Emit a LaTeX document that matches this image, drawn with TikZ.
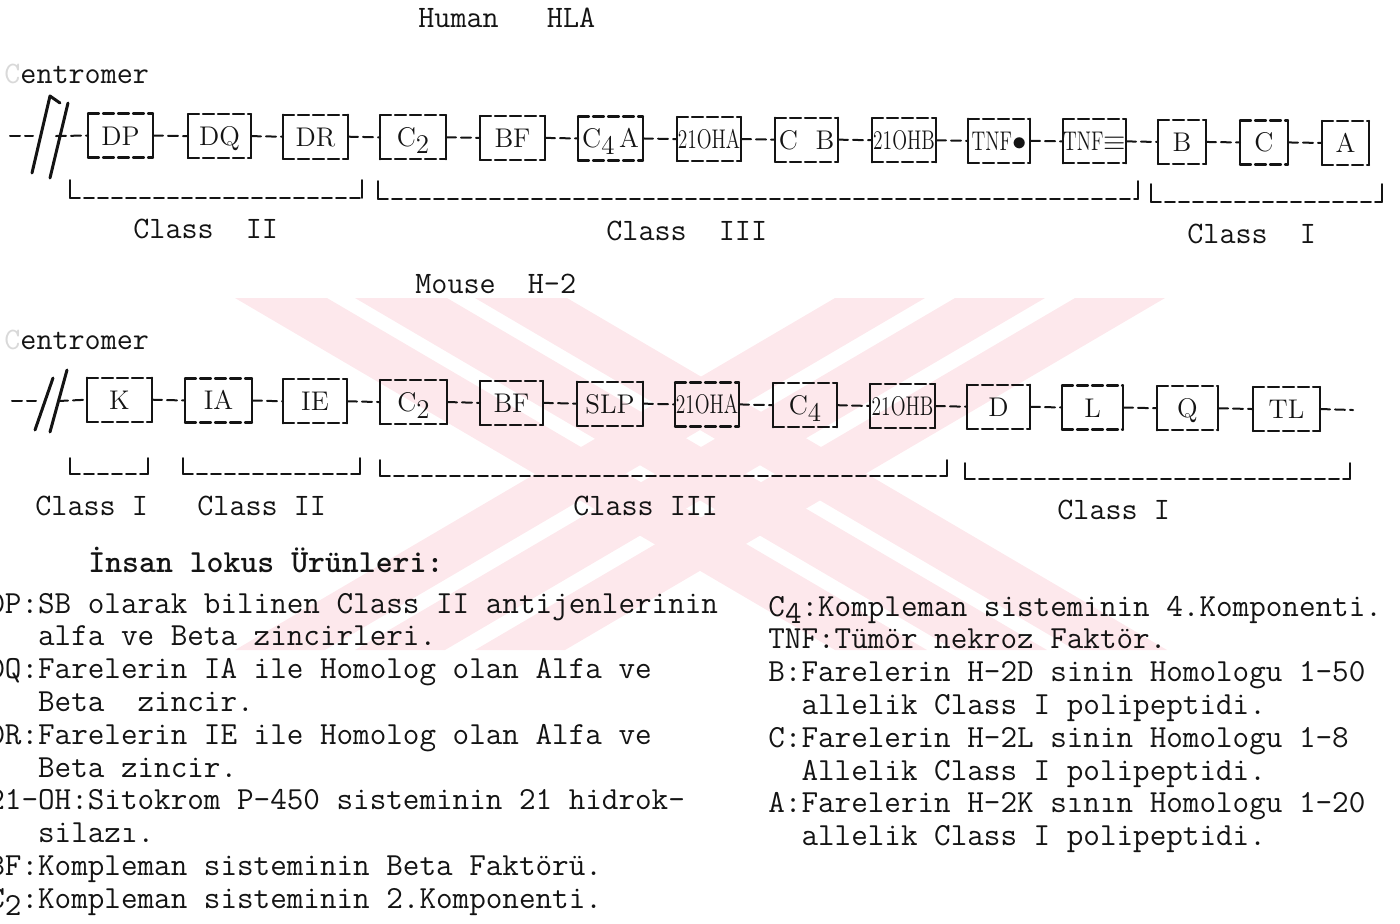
\documentclass[tikz,border=0pt]{standalone}
\usepackage{graphicx}
\usepackage{tikz}
\usetikzlibrary{positioning,calc}
\definecolor{wmpink}{HTML}{FDE8EC}
\definecolor{ink}{HTML}{141414}
\newcommand\headfont{\fontsize{15.6}{18}\selectfont\ttfamily}
\newcommand\legfont{\fontsize{16.1}{16.4}\selectfont\ttfamily}
\newcommand\genefont{\fontsize{13.5}{15}\selectfont\rmfamily}
\newcommand\sqz[1]{\scalebox{.72}[1]{#1}}
\newcommand\lowr[1]{\raisebox{-3.5pt}{#1}}
\tikzset{
    every picture/.style={line cap=round,line join=round},
    boxrule/.style={draw=ink,line width=1.1pt,dash pattern=on 5.5pt off 2pt},
    boxside/.style={draw=ink,line width=1.1pt},
    genebox/.style={inner sep=0pt,outer sep=0pt,minimum height=22pt,
      text height=9.5pt,text depth=0pt,font=\genefont,text=ink,
      append after command={
        (\tikzlastnode.north west) edge[boxrule] (\tikzlastnode.north east)
        (\tikzlastnode.south west) edge[boxrule] (\tikzlastnode.south east)
        (\tikzlastnode.north west) edge[boxside] (\tikzlastnode.south west)
        (\tikzlastnode.north east) edge[boxside] (\tikzlastnode.south east)}},
    linkline/.style={draw=ink,line width=1pt,dash pattern=on 5pt off 2.5pt},
    breakline/.style={draw=ink,line width=1.5pt},
    tickline/.style={draw=ink,line width=0.9pt},
    spanline/.style={draw=ink,line width=0.9pt,dash pattern=on 5pt off 2pt},
    headtext/.style={inner sep=0pt,font=\headfont,text=ink,anchor=base west},
    legtext/.style={inner sep=0pt,font=\legfont,text=ink,anchor=base west},
    wmark/.style={fill=wmpink}
}

\begin{document}
\begin{tikzpicture}[x=0.5pt,y=-0.5pt]
  \useasboundingbox (0,0) rectangle (1400,923);
  \foreach \a in {235,355,475} {
    \fill[wmark] (\a,298) -- (\a+92,298) -- (\a+692,650) -- (\a+600,650) -- cycle;
  }
  \foreach \a in {835,955,1075} {
    \fill[wmark] (\a,298) -- (\a+90,298) -- (\a-510,650) -- (\a-600,650) -- cycle;
  }

  \node[headtext] (hla) at (418,27) {Human\ \ \ HLA};
  \node[headtext] (hcen) at (4,83) {{\color{black!15}C}entromer};
  \foreach \i/\xa/\xb/\lab in {1/88/153/DP,2/188/251/DQ,3/283/348/DR,
      4/380/446/{C\lowr{2}},5/480/545/BF,6/578/643/{C\lowr{4}\,A},
      7/677/741/{\sqz{21OHA}},8/775/838/{C\ \ B},9/872/936/{\sqz{21OHB}},
      10/968/1030/{\sqz{TNF}$\bullet$},11/1063/1126/{\sqz{TNF}$\equiv$},
      12/1158/1206/B,13/1240/1288/C,14/1322/1369/A} {
    \node[genebox,minimum width={(\xb-\xa)*0.5pt}] (h\i)
      at ({(\xa+\xb)/2},{135+0.006*\xa}) {\lab};
  }
  \coordinate (hs) at (10,136);
  \coordinate (hb1) at (33,136);
  \coordinate (hb2) at (56,136);
  \draw[linkline] (hs) -- (hb1);
  \draw[linkline] (hb2) -- (h1.west);
  \draw[breakline] (32,173) -- (50,96) -- (60,103);
  \draw[breakline] (50,178) -- (68,103);
  \foreach \i [evaluate=\i as \j using int(\i-1)] in {2,...,14}
    \draw[linkline] (h\j.east) -- (h\i.west);
  \foreach \xa/\xb/\yt in {70/362/180,378/1138/181,1151/1382/184} {
    \draw[tickline] (\xa,\yt) -- (\xa,\yt+18);
    \draw[tickline] (\xb,\yt) -- (\xb,\yt+18);
    \draw[spanline] (\xa,\yt+18) -- (\xb,\yt+18);
  }
  \node[headtext] (hc2) at (133,238) {Class\ \ II};
  \node[headtext] (hc3) at (606,240) {Class\ \ III};
  \node[headtext] (hc1) at (1187,243) {Class\ \ I};

  \node[headtext] (mh2) at (415,293) {Mouse\ \ H-2};
  \node[headtext] (mcen) at (4,349) {{\color{black!15}C}entromer};
  \foreach \i/\xa/\xb/\lab in {1/87/152/K,2/185/252/IA,3/283/347/IE,
      4/380/447/{C\lowr{2}},5/480/543/BF,6/577/643/SLP,
      7/675/739/{\sqz{21OHA}},8/773/837/{C\lowr{4}},9/870/935/{\sqz{21OHB}},
      10/967/1030/D,11/1062/1123/L,12/1157/1218/Q,13/1253/1320/TL} {
    \node[genebox,minimum width={(\xb-\xa)*0.5pt}] (m\i)
      at ({(\xa+\xb)/2},{399+0.008*\xa}) {\lab};
  }
  \coordinate (ms) at (12,401);
  \coordinate (mb1) at (36,401);
  \coordinate (mb2) at (58,401);
  \coordinate (mend) at (1353,410);
  \draw[linkline] (ms) -- (mb1);
  \draw[linkline] (mb2) -- (m1.west);
  \draw[breakline] (35,430) -- (53,378);
  \draw[breakline] (50,432) -- (67,370);
  \foreach \i [evaluate=\i as \j using int(\i-1)] in {2,...,13}
    \draw[linkline] (m\j.east) -- (m\i.west);
  \draw[linkline] (m13.east) -- (mend);
  \foreach \xa/\xb/\yt in {70/148/458,183/360/458,380/947/460,965/1350/463} {
    \draw[tickline] (\xa,\yt) -- (\xa,\yt+16);
    \draw[tickline] (\xb,\yt) -- (\xb,\yt+16);
    \draw[spanline] (\xa,\yt+16) -- (\xb,\yt+16);
  }
  \node[headtext] (mc1) at (35,515) {Class I};
  \node[headtext] (mc2) at (197,515) {Class II};
  \node[headtext] (mc3) at (573,515) {Class III};
  \node[headtext] (mc4) at (1057,519) {Class I};

  \node[legtext,font=\legfont\bfseries] (tit) at (88,572) {İnsan lokus Ürünleri:};
  \foreach \t [count=\k] in {
      DP:SB olarak bilinen Class II antijenlerinin,
      \ \ \ alfa ve Beta zincirleri.,
      DQ:Farelerin IA ile Homolog olan Alfa ve,
      \ \ \ Beta\ \ zincir.,
      DR:Farelerin IE ile Homolog olan Alfa ve,
      \ \ \ Beta zincir.,
      21-OH:Sitokrom P-450 sisteminin 21 hidrok-,
      \ \ \ silazı.,
      BF:Kompleman sisteminin Beta Faktörü.,
      C\lowr{2}:Kompleman sisteminin 2.Komponenti.} {
    \node[legtext] (le\k) at (-12,{613+(\k-1)*32.8}) {\t};
  }
  \foreach \t [count=\k] in {
      C\lowr{4}:Kompleman sisteminin 4.Komponenti.,
      TNF:Tümör nekroz Faktör.,
      B:Farelerin H-2D sinin Homologu 1-50,
      \ \ allelik Class I polipeptidi.,
      C:Farelerin H-2L sinin Homologu 1-8,
      \ \ Allelik Class I polipeptidi.,
      A:Farelerin H-2K sının Homologu 1-20,
      \ \ allelik Class I polipeptidi.} {
    \node[legtext] (ri\k) at (768,{616+(\k-1)*32.8}) {\t};
  }
\end{tikzpicture}
\end{document}
